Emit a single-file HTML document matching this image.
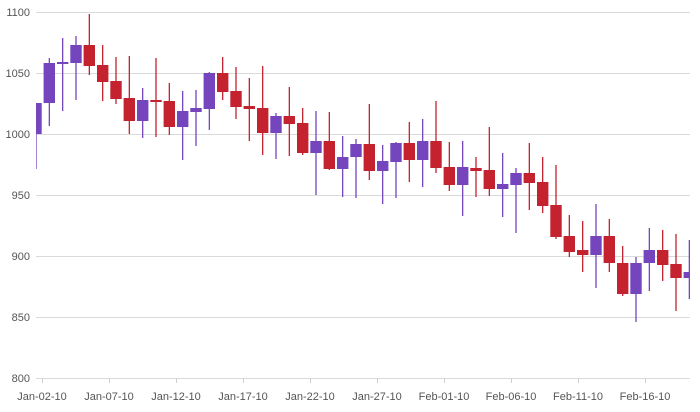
<!DOCTYPE html>
<html><head><meta charset="utf-8"><style>
body{margin:0;background:#fff;}
svg{display:block;font-family:"Liberation Sans",sans-serif;}
.p{fill:#7445bd;stroke:#7445bd}
.r{fill:#c4222f;stroke:#c4222f}
line.p,line.r{stroke-width:1.3}
rect.p,rect.r{stroke:none}
</style></head><body>
<svg width="700" height="412" viewBox="0 0 700 412">
<g stroke="#dadada" stroke-width="1">
<line x1="36" y1="12.5" x2="690" y2="12.5"/>
<line x1="36" y1="73.5" x2="690" y2="73.5"/>
<line x1="36" y1="134.5" x2="690" y2="134.5"/>
<line x1="36" y1="195.5" x2="690" y2="195.5"/>
<line x1="36" y1="256.5" x2="690" y2="256.5"/>
<line x1="36" y1="317.5" x2="690" y2="317.5"/>
<line x1="36" y1="378.5" x2="690" y2="378.5"/>
</g>
<g stroke="#cfcfcf">
<line x1="42.5" y1="378" x2="42.5" y2="383"/><line x1="109.5" y1="378" x2="109.5" y2="383"/>
<line x1="176.5" y1="378" x2="176.5" y2="383"/><line x1="243.5" y1="378" x2="243.5" y2="383"/>
<line x1="310.5" y1="378" x2="310.5" y2="383"/><line x1="377.5" y1="378" x2="377.5" y2="383"/>
<line x1="444.5" y1="378" x2="444.5" y2="383"/><line x1="511.5" y1="378" x2="511.5" y2="383"/>
<line x1="578.5" y1="378" x2="578.5" y2="383"/><line x1="645.5" y1="378" x2="645.5" y2="383"/>
</g>
<g font-size="11" fill="#555" text-anchor="end">
<text x="30" y="16">1100</text><text x="30" y="77">1050</text><text x="30" y="138">1000</text>
<text x="30" y="199">950</text><text x="30" y="260">900</text><text x="30" y="321">850</text><text x="30" y="382">800</text>
</g>
<g font-size="11" fill="#555" text-anchor="middle">
<text x="42" y="400">Jan-02-10</text><text x="109" y="400">Jan-07-10</text><text x="176" y="400">Jan-12-10</text>
<text x="243" y="400">Jan-17-10</text><text x="310" y="400">Jan-22-10</text><text x="377" y="400">Jan-27-10</text>
<text x="444" y="400">Feb-01-10</text><text x="511" y="400">Feb-06-10</text><text x="578" y="400">Feb-11-10</text>
<text x="645" y="400">Feb-16-10</text>
</g>
<defs><clipPath id="c"><rect x="36" y="0" width="654" height="378"/></clipPath></defs>
<g clip-path="url(#c)">
<line class="p" x1="36" x2="36" y1="103" y2="169"/><rect class="p" x="30.3" y="103" width="11.4" height="31"/>
<line class="p" x1="49.33" x2="49.33" y1="58" y2="126"/><rect class="p" x="43.6" y="63" width="11.4" height="40"/>
<line class="p" x1="62.67" x2="62.67" y1="38" y2="111"/><rect class="p" x="57" y="62" width="11.4" height="2"/>
<line class="p" x1="76" x2="76" y1="36" y2="100"/><rect class="p" x="70.3" y="45" width="11.4" height="18"/>
<line class="r" x1="89.33" x2="89.33" y1="14" y2="75"/><rect class="r" x="83.6" y="45" width="11.4" height="21"/>
<line class="r" x1="102.67" x2="102.67" y1="45" y2="101"/><rect class="r" x="97" y="65" width="11.4" height="17"/>
<line class="r" x1="116" x2="116" y1="57" y2="104"/><rect class="r" x="110.3" y="81" width="11.4" height="18"/>
<line class="r" x1="129.33" x2="129.33" y1="56" y2="134"/><rect class="r" x="123.6" y="98" width="11.4" height="23"/>
<line class="p" x1="142.67" x2="142.67" y1="88" y2="138"/><rect class="p" x="137" y="100" width="11.4" height="21"/>
<line class="r" x1="156" x2="156" y1="58" y2="137"/><rect class="r" x="150.3" y="100" width="11.4" height="2"/>
<line class="r" x1="169.33" x2="169.33" y1="83" y2="135"/><rect class="r" x="163.6" y="101" width="11.4" height="26"/>
<line class="p" x1="182.67" x2="182.67" y1="91" y2="160"/><rect class="p" x="177" y="111" width="11.4" height="16"/>
<line class="p" x1="196" x2="196" y1="90" y2="146"/><rect class="p" x="190.3" y="108" width="11.4" height="4"/>
<line class="p" x1="209.33" x2="209.33" y1="72" y2="130"/><rect class="p" x="203.6" y="73" width="11.4" height="36"/>
<line class="r" x1="222.67" x2="222.67" y1="57" y2="100"/><rect class="r" x="217" y="73" width="11.4" height="19"/>
<line class="r" x1="236" x2="236" y1="67" y2="119"/><rect class="r" x="230.3" y="91" width="11.4" height="16"/>
<line class="r" x1="249.33" x2="249.33" y1="78" y2="141"/><rect class="r" x="243.6" y="106" width="11.4" height="3"/>
<line class="r" x1="262.67" x2="262.67" y1="66" y2="155"/><rect class="r" x="257" y="108" width="11.4" height="25"/>
<line class="p" x1="276" x2="276" y1="113" y2="159"/><rect class="p" x="270.3" y="116" width="11.4" height="17"/>
<line class="r" x1="289.33" x2="289.33" y1="87" y2="156"/><rect class="r" x="283.6" y="116" width="11.4" height="8"/>
<line class="r" x1="302.67" x2="302.67" y1="108" y2="155"/><rect class="r" x="297" y="123" width="11.4" height="30"/>
<line class="p" x1="316" x2="316" y1="111" y2="195"/><rect class="p" x="310.3" y="141" width="11.4" height="12"/>
<line class="r" x1="329.33" x2="329.33" y1="112" y2="170"/><rect class="r" x="323.6" y="141" width="11.4" height="28"/>
<line class="p" x1="342.67" x2="342.67" y1="136" y2="197"/><rect class="p" x="337" y="157" width="11.4" height="12"/>
<line class="p" x1="356" x2="356" y1="139" y2="198"/><rect class="p" x="350.3" y="144" width="11.4" height="13"/>
<line class="r" x1="369.33" x2="369.33" y1="104" y2="180"/><rect class="r" x="363.6" y="144" width="11.4" height="27"/>
<line class="p" x1="382.67" x2="382.67" y1="145" y2="204"/><rect class="p" x="377" y="161" width="11.4" height="10"/>
<line class="p" x1="396" x2="396" y1="142" y2="198"/><rect class="p" x="390.3" y="143" width="11.4" height="19"/>
<line class="r" x1="409.33" x2="409.33" y1="122" y2="182"/><rect class="r" x="403.6" y="143" width="11.4" height="17"/>
<line class="p" x1="422.67" x2="422.67" y1="119" y2="187"/><rect class="p" x="417" y="141" width="11.4" height="19"/>
<line class="r" x1="436" x2="436" y1="101" y2="173"/><rect class="r" x="430.3" y="141" width="11.4" height="27"/>
<line class="r" x1="449.33" x2="449.33" y1="142" y2="191"/><rect class="r" x="443.6" y="167" width="11.4" height="18"/>
<line class="p" x1="462.67" x2="462.67" y1="141" y2="216"/><rect class="p" x="457" y="167" width="11.4" height="18"/>
<line class="r" x1="476" x2="476" y1="157" y2="197"/><rect class="r" x="470.3" y="168" width="11.4" height="3"/>
<line class="r" x1="489.33" x2="489.33" y1="127" y2="196"/><rect class="r" x="483.6" y="170" width="11.4" height="19"/>
<line class="p" x1="502.67" x2="502.67" y1="153" y2="217"/><rect class="p" x="497" y="184" width="11.4" height="5"/>
<line class="p" x1="516" x2="516" y1="168" y2="233"/><rect class="p" x="510.3" y="173" width="11.4" height="12"/>
<line class="r" x1="529.33" x2="529.33" y1="143" y2="210"/><rect class="r" x="523.6" y="173" width="11.4" height="10"/>
<line class="r" x1="542.67" x2="542.67" y1="157" y2="213"/><rect class="r" x="537" y="182" width="11.4" height="24"/>
<line class="r" x1="556" x2="556" y1="165" y2="239"/><rect class="r" x="550.3" y="205" width="11.4" height="32"/>
<line class="r" x1="569.33" x2="569.33" y1="215" y2="257"/><rect class="r" x="563.6" y="236" width="11.4" height="16"/>
<line class="r" x1="582.67" x2="582.67" y1="221" y2="272"/><rect class="r" x="577" y="250" width="11.4" height="5"/>
<line class="p" x1="596" x2="596" y1="204" y2="288"/><rect class="p" x="590.3" y="236" width="11.4" height="19"/>
<line class="r" x1="609.33" x2="609.33" y1="219" y2="272"/><rect class="r" x="603.6" y="236" width="11.4" height="27"/>
<line class="r" x1="622.67" x2="622.67" y1="246" y2="296"/><rect class="r" x="617" y="263" width="11.4" height="31"/>
<line class="p" x1="636" x2="636" y1="257" y2="322"/><rect class="p" x="630.3" y="263" width="11.4" height="31"/>
<line class="p" x1="649.33" x2="649.33" y1="228" y2="291"/><rect class="p" x="643.6" y="250" width="11.4" height="13"/>
<line class="r" x1="662.67" x2="662.67" y1="230" y2="281"/><rect class="r" x="657" y="250" width="11.4" height="15"/>
<line class="r" x1="676" x2="676" y1="234" y2="311"/><rect class="r" x="670.3" y="264" width="11.4" height="14"/>
<line class="p" x1="689.33" x2="689.33" y1="240" y2="299"/><rect class="p" x="683.6" y="272" width="11.4" height="6"/>
</g>
</svg>
</body></html>
